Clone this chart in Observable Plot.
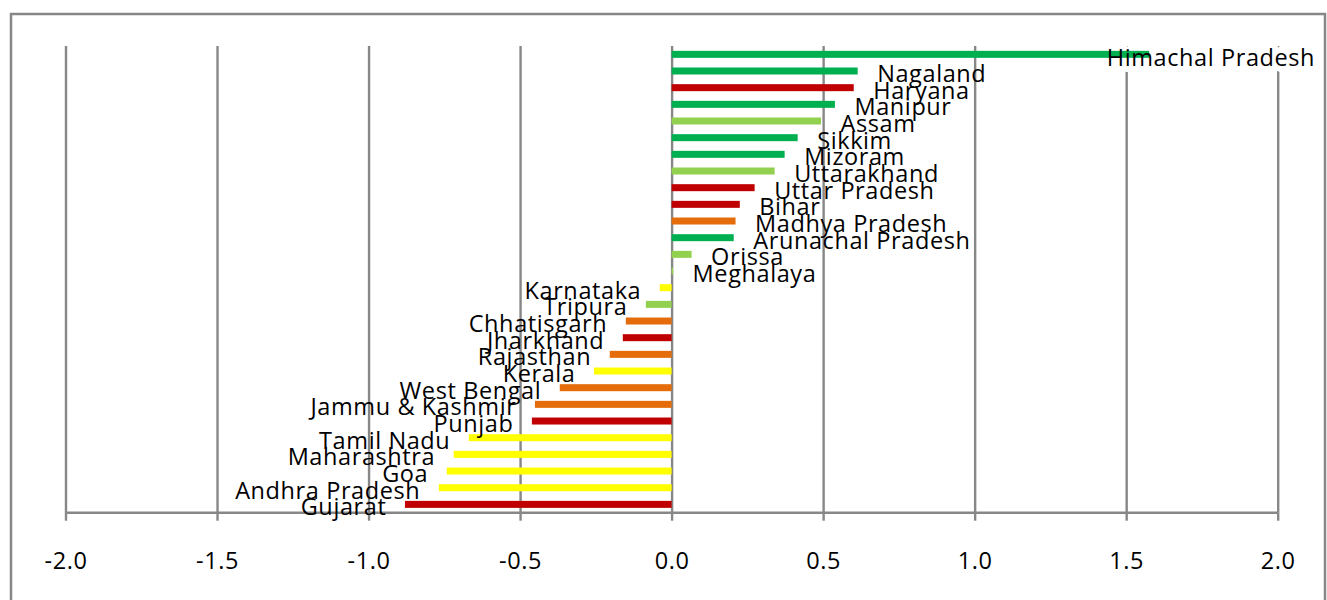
<!DOCTYPE html>
<html>
<head>
<meta charset="utf-8">
<script src="https://cdn.jsdelivr.net/npm/d3@7"></script>
<script src="https://cdn.jsdelivr.net/npm/@observablehq/plot@0.6"></script>
<style>
  body { margin: 0; background: #fff; }
</style>
</head>
<body>
<div id="chart"></div>
<script>
// States, ordered top to bottom
const states = [
  "Himachal Pradesh", "Nagaland", "Haryana", "Manipur", "Assam", "Sikkim", "Mizoram",
  "Uttarakhand", "Uttar Pradesh", "Bihar", "Madhya Pradesh", "Arunachal Pradesh",
  "Orissa", "Meghalaya", "Karnataka", "Tripura", "Chhatisgarh", "Jharkhand",
  "Rajasthan", "Kerala", "West Bengal", "Jammu & Kashmir", "Punjab", "Tamil Nadu",
  "Maharashtra", "Goa", "Andhra Pradesh", "Gujarat"
];

// Index value per state
const values = [
  1.576, 0.614, 0.601, 0.539, 0.493, 0.416, 0.373,
  0.340, 0.274, 0.225, 0.211, 0.205,
  0.066, 0.005, -0.039, -0.085, -0.151, -0.161,
  -0.204, -0.256, -0.369, -0.451, -0.461, -0.669,
  -0.719, -0.742, -0.768, -0.880
];

// Colour class per state (1 = dark green ... 5 = red)
const classes = [
  1, 1, 5, 1, 2, 1, 1,
  2, 5, 5, 4, 1,
  2, 2, 3, 2, 4, 5,
  4, 3, 4, 4, 5, 3,
  3, 3, 3, 5
];

const classDomain = [1, 2, 3, 4, 5];
const classPalette = ["#00B050", "#92D050", "#FFFF00", "#E46C0A", "#C00000"];

const xTicks = [-2, -1.5, -1, -0.5, 0, 0.5, 1, 1.5, 2];

const rows = states.map((state, i) => ({ state, value: values[i], cls: classes[i] }));
const lastFit = rows.slice(1); // labels that sit after their bar
const wideLabel = rows.slice(0, 1); // the long top label is pulled back inside the frame

const grey = "#878787";
const fmt = d => d.toFixed(1);

// Outer border around the whole chart
const border = (index, scales, vals, dims) =>
  d3.create("svg:rect")
    .attr("x", 11).attr("y", 14)
    .attr("width", dims.width - 13).attr("height", dims.height + 20)
    .attr("fill", "none").attr("stroke", grey).attr("stroke-width", 2.5)
    .node();

// Horizontal axis baseline along the bottom of the plot area
const baseline = (index, { x }, vals, dims) => {
  const y = dims.height - dims.marginBottom;
  return d3.create("svg:line")
    .attr("x1", x(-2)).attr("x2", x(2))
    .attr("y1", y).attr("y2", y)
    .attr("stroke", grey).attr("stroke-width", 2.4)
    .node();
};

const wideLabelOpts = {
  x: "value", y: "state", text: "state",
  textAnchor: "start", dx: -43, dy: 4, fontSize: 23.5
};

const chart = Plot.plot({
  width: 1327,
  height: 600,
  marginLeft: 65.5,
  marginRight: 49.3,
  marginTop: 46,
  marginBottom: 87.3,
  style: {
    fontFamily: "'Open Sans', sans-serif",
    fontSize: "23.5px",
    color: "#000",
    background: "#fff",
    letterSpacing: "0.6px"
  },
  x: { domain: [-2, 2], axis: null },
  y: { domain: states, paddingInner: 0.58, paddingOuter: 0.29, round: false, axis: null },
  color: { domain: classDomain, range: classPalette },
  marks: [
    border,
    Plot.ruleX(xTicks, { stroke: grey, strokeWidth: 2.4 }),
    // white backing of the top label, masking the gridlines behind it
    Plot.text(wideLabel, { ...wideLabelOpts, fill: "#fff", stroke: "#fff", strokeWidth: 12 }),
    Plot.barX(rows, { x: "value", y: "state", fill: "cls" }),
    baseline,
    Plot.axisX({
      ticks: xTicks,
      tickFormat: fmt,
      tickSize: 8,
      tickPadding: 31,
      stroke: grey,
      strokeWidth: 2.4,
      strokeOpacity: 1,
      fill: "#000",
      fontSize: 23.5,
      label: null
    }),
    Plot.text(lastFit.filter(d => d.value >= 0), {
      x: "value", y: "state", text: "state",
      textAnchor: "start", dx: 19, dy: 3, fill: "#000", fontSize: 23.5
    }),
    Plot.text(lastFit.filter(d => d.value < 0), {
      x: "value", y: "state", text: "state",
      textAnchor: "end", dx: -19, dy: 3, fill: "#000", fontSize: 23.5
    }),
    Plot.text(wideLabel, { ...wideLabelOpts, fill: "#000" })
  ]
});

document.getElementById("chart").append(chart);
</script>
</body>
</html>
